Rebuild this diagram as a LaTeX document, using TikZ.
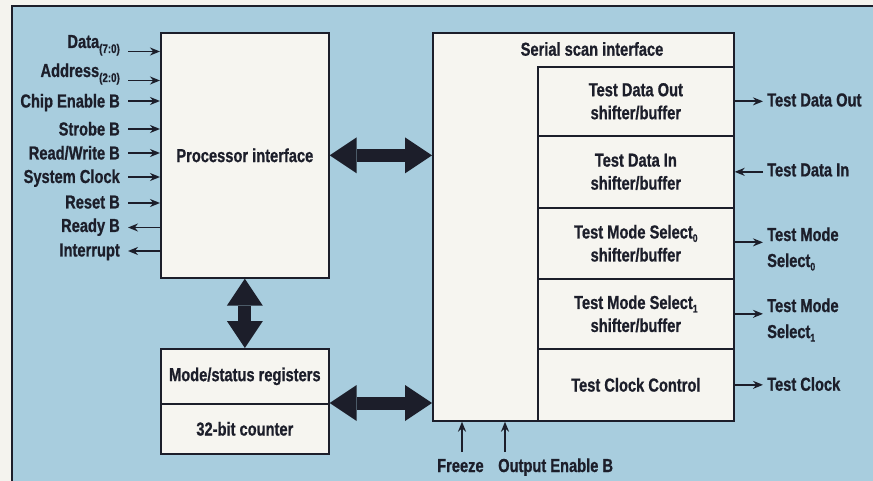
\documentclass[tikz,border=0pt]{standalone}
\usepackage{fontspec}
\setmainfont{Liberation Sans}[FakeStretch=0.78, BoldFeatures={FakeBold=0.8}]
\usetikzlibrary{arrows.meta}
\definecolor{bg}{RGB}{168,205,222}
\definecolor{boxfill}{RGB}{246,245,240}
\definecolor{ink}{RGB}{28,30,42}
\definecolor{paper}{RGB}{244,243,238}
\newcommand\lsub[1]{\raisebox{-5pt}{\fontsize{12.5}{12.5}\selectfont #1}}
\newcommand\rsub[1]{\raisebox{-3.5pt}{\fontsize{11}{11}\selectfont #1}}
\tikzset{
  lbl/.style={font=\bfseries\fontsize{18.8}{23}\selectfont, text=ink, inner sep=0pt},
  box/.style={draw=ink, line width=1.7pt, fill=boxfill, inner sep=0pt},
  sig/.style={draw=ink, line width=1.7pt, -{Stealth[length=10pt,width=8pt]}},
  bus/.style={draw=ink, line width=13pt,
    {Triangle[length=27pt,width=36pt,line width=0pt]}-{Triangle[length=27pt,width=36pt,line width=0pt]}},
}
\begin{document}
\begin{tikzpicture}[x=1pt,y=-1pt]
\useasboundingbox (0,0) rectangle (873,481);
\fill[paper] (0,0) rectangle (873,481);
\fill[bg] (12,6) rectangle (873,481);
\draw[ink, line width=2.2pt] (12,481) -- (12,6) -- (873,6);

% processor interface
\node[box, lbl, anchor=north west, minimum width=168pt, minimum height=245pt] (proc) at (160,32) {Processor interface};
% mode/status + counter
\node[box, lbl, anchor=north west, minimum width=168pt, minimum height=55pt] (mode) at (160,348) {Mode/status registers};
\node[box, lbl, anchor=north west, minimum width=168pt, minimum height=50pt] (ctr) at (160,403) {32-bit counter};

% serial scan interface
\node[box, anchor=north west, minimum width=301pt, minimum height=388pt] (ser) at (432,32) {};
\node[lbl] (sertitle) at (592,49) {Serial scan interface};
\node[box, lbl, align=center, anchor=north west, minimum width=196pt, minimum height=69pt] (tdo) at (537,66) {Test Data Out\\shifter/buffer};
\node[box, lbl, align=center, anchor=north west, minimum width=196pt, minimum height=72pt] (tdi) at (537,135) {Test Data In\\shifter/buffer};
\node[box, lbl, align=center, anchor=north west, minimum width=196pt, minimum height=71pt] (tms0) at (537,207) {Test Mode Select\rsub{0}\\shifter/buffer};
\node[box, lbl, align=center, anchor=north west, minimum width=196pt, minimum height=70pt] (tms1) at (537,278) {Test Mode Select\rsub{1}\\shifter/buffer};
\node[box, lbl, align=center, anchor=north west, minimum width=196pt, minimum height=72pt] (tcc) at (537,348) {Test Clock Control};

% buses
\draw[bus] (proc.east) -- (proc.east -| ser.west);
\draw[bus] (proc.south) -- (mode.north);
\draw[bus] (ctr.north east) -- (ctr.north east -| ser.west);

% left signals
\node[lbl, anchor=base east] (lData) at (120,48) {Data\lsub{(7:0)}};
\node[lbl, anchor=base east] (lAddr) at (120,77) {Address\lsub{(2:0)}};
\node[lbl, anchor=base east] (lCE) at (120,107.5) {Chip Enable B};
\node[lbl, anchor=base east] (lStr) at (120,135.5) {Strobe B};
\node[lbl, anchor=base east] (lRW) at (120,159.5) {Read/Write B};
\node[lbl, anchor=base east] (lClk) at (120,183) {System Clock};
\node[lbl, anchor=base east] (lRst) at (120,208.5) {Reset B};
\node[lbl, anchor=base east] (lRdy) at (120,232) {Ready B};
\node[lbl, anchor=base east] (lInt) at (120,256.5) {Interrupt};

\coordinate (cData) at (128,51.5);
\coordinate (cAddr) at (128,80.5);
\coordinate (cCE) at (128,101);
\coordinate (cStr) at (128,129);
\coordinate (cRW) at (128,153);
\coordinate (cClk) at (128,177);
\coordinate (cRst) at (128,203);
\coordinate (cRdy) at (128,227.5);
\coordinate (cInt) at (128,251);
\draw[sig] (cData) -- (cData -| proc.west);
\draw[sig] (cAddr) -- (cAddr -| proc.west);
\draw[sig] (cCE) -- (cCE -| proc.west);
\draw[sig] (cStr) -- (cStr -| proc.west);
\draw[sig] (cRW) -- (cRW -| proc.west);
\draw[sig] (cClk) -- (cClk -| proc.west);
\draw[sig] (cRst) -- (cRst -| proc.west);
\draw[sig] (cRdy -| proc.west) -- (cRdy);
\draw[sig] (cInt -| proc.west) -- (cInt);

% right signals
\coordinate (rx) at (763,0);
\draw[sig] (tdo.east) -- (tdo.east -| rx);
\draw[sig] (tdi.east -| rx) -- (tdi.east);
\draw[sig] ([yshift=1pt]tms0.east) -- ([yshift=1pt]tms0.east -| rx);
\draw[sig] (tms1.east) -- (tms1.east -| rx);
\draw[sig] (tcc.east) -- (tcc.east -| rx);

\node[lbl, anchor=west] (oTDO) at (767,100) {Test Data Out};
\node[lbl, anchor=west] (oTDI) at (767,170) {Test Data In};
\node[lbl, anchor=west, align=left, font=\bfseries\fontsize{18.8}{26}\selectfont] (oTMS0) at (767,249) {Test Mode\\Select\rsub{0}};
\node[lbl, anchor=west, align=left, font=\bfseries\fontsize{18.8}{26}\selectfont] (oTMS1) at (767,320) {Test Mode\\Select\rsub{1}};
\node[lbl, anchor=west] (oTCK) at (767,384) {Test Clock};

% bottom signals
\node[lbl, anchor=base west] (lFrz) at (437,472) {Freeze};
\node[lbl, anchor=base west] (lOE) at (498,472) {Output Enable B};
\coordinate (cFrz) at (462,452);
\coordinate (cOE) at (505,452);
\draw[sig] (cFrz) -- (cFrz |- ser.south);
\draw[sig] (cOE) -- (cOE |- ser.south);
\end{tikzpicture}
\end{document}
